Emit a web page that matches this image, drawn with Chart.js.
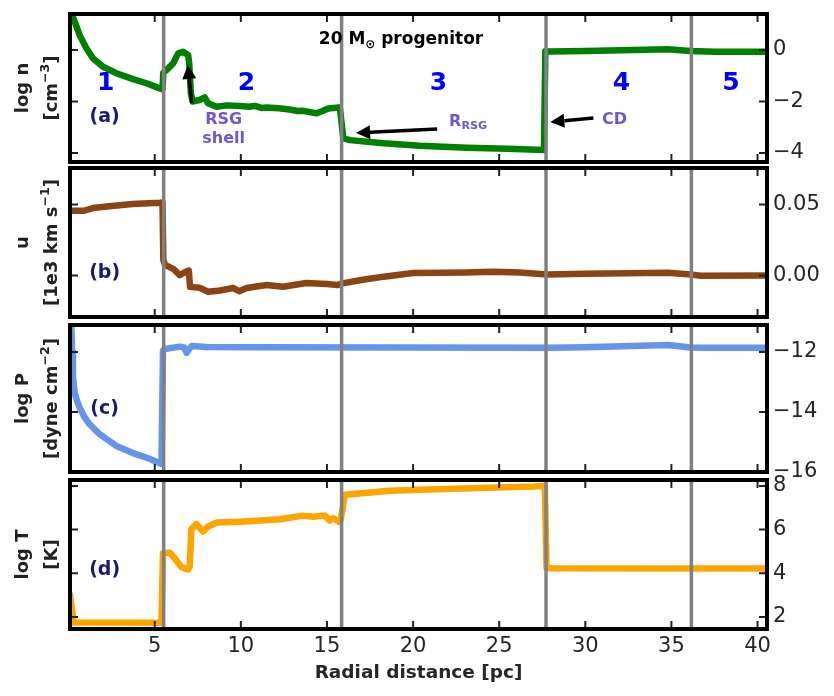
<!DOCTYPE html>
<html lang="en">

<head>
    <meta charset="UTF-8">
    <title>20 Msun progenitor profiles</title>
    <script src="https://cdn.jsdelivr.net/npm/chart.js"></script>
    <style>
        body {
            margin: 0;
            background: #fff;
        }

        #figure {
            position: relative;
            width: 834px;
            height: 696px;
        }

        .panel {
            position: absolute;
            left: 0;
            width: 834px;
        }
    </style>
</head>

<body>
    <div id="figure">
        <div class="panel" id="wrapA"><canvas id="chartA"></canvas></div>
        <div class="panel" id="wrapB"><canvas id="chartB"></canvas></div>
        <div class="panel" id="wrapC"><canvas id="chartC"></canvas></div>
        <div class="panel" id="wrapD"><canvas id="chartD"></canvas></div>
    </div>

    <script>
        // ---- data ----
        const boundaries = [5.52, 15.85, 27.72, 36.16];
        const regionLabels = ['1', '2', '3', '4', '5'];
        const regionCentres = [2.15, 10.32, 21.48, 32.1, 38.46];

        const xTicks = [5, 10, 15, 20, 25, 30, 35, 40];
        const nTicks = [-4, -2, 0];
        const uTicks = [0, 0.05];
        const pTicks = [-16, -14, -12];
        const tTicks = [2, 4, 6, 8];

        // (a) log n
        const radiusN = [0.08, 0.25, 0.64, 1.03, 1.41, 2.0, 2.77, 3.74, 4.52, 5.29, 5.45, 5.5, 5.68, 6.07, 6.36,
            6.65, 6.94, 7.0, 7.1, 7.2, 7.6, 7.9, 8.1, 8.59, 9.2, 9.94, 10.5, 10.8, 11.2, 11.49, 12.2, 12.6, 13.0,
            13.3, 13.6, 14.4, 14.7, 15.08, 15.66, 15.75, 15.95, 16.34, 18.27, 20.4, 23.1, 25.5, 27.6, 27.68, 27.97,
            30.0, 32.8, 34.8, 36.1, 37.5, 40.55];
        const logN = [1.8, 1.29, 0.58, 0.07, -0.32, -0.65, -0.9, -1.13, -1.29, -1.49, -1.52, -0.88, -0.78, -0.52,
            -0.13, -0.07, -0.19, -0.5, -1.7, -2.0, -1.94, -1.84, -2.07, -2.2, -2.15, -2.17, -2.2, -2.17, -2.25,
            -2.23, -2.26, -2.29, -2.33, -2.37, -2.36, -2.46, -2.38, -2.27, -2.23, -2.25, -3.43, -3.5, -3.62, -3.72,
            -3.8, -3.84, -3.88, -0.05, -0.06, -0.04, 0.0, 0.03, -0.04, -0.07, -0.07];

        // (b) u
        const radiusU = [0.08, 0.9, 1.4, 2.5, 3.7, 5.3, 5.45, 5.5, 5.6, 6.1, 6.45, 6.85, 6.98, 7.05, 7.6, 8.1, 8.8,
            9.55, 9.75, 9.94, 10.3, 10.7, 11.5, 12.45, 13.8, 15.0, 15.6, 15.9, 17.0, 18.3, 20.0, 21.7, 23.0, 24.7,
            26.2, 27.8, 30.0, 34.8, 36.1, 36.7, 40.55];
        const velocityU = [0.0456, 0.0456, 0.0475, 0.049, 0.0503, 0.0513, 0.0515, 0.011, 0.0075, 0.0045, 0.0003,
            0.003, 0.0035, -0.008, -0.0086, -0.0114, -0.0105, -0.0088, -0.01, -0.011, -0.009, -0.0081, -0.0067,
            -0.0079, -0.0053, -0.006, -0.0067, -0.0055, -0.0032, -0.0008, 0.0018, 0.002, 0.0022, 0.0027, 0.0022,
            0.0008, 0.0012, 0.002, 0.0008, -0.0001, 0.0];

        // (c) log P
        const radiusP = [0.08, 0.15, 0.2, 0.25, 0.35, 0.5, 0.64, 0.9, 1.22, 1.8, 2.77, 3.74, 4.7, 5.39, 5.48, 5.6,
            6.45, 6.7, 6.85, 7.0, 7.15, 8.0, 10.7, 20.0, 27.8, 30.0, 34.8, 36.1, 37.0, 40.55];
        const logP = [-10.5, -11.0, -12.0, -12.8, -13.35, -13.65, -13.85, -14.15, -14.41, -14.74, -15.13, -15.37,
            -15.56, -15.73, -11.95, -11.9, -11.82, -11.85, -12.03, -11.9, -11.8, -11.83, -11.84, -11.85, -11.86,
            -11.84, -11.77, -11.85, -11.86, -11.86];

        // (d) log T
        const radiusT = [0.08, 0.15, 0.3, 5.39, 5.48, 5.87, 6.16, 6.55, 6.94, 7.03, 7.13, 7.42, 7.81, 8.1, 8.59,
            9.94, 10.9, 12.27, 13.6, 14.2, 14.88, 15.17, 15.37, 15.7, 15.78, 16.05, 18.66, 20.8, 27.0, 27.65, 27.75,
            28.05, 40.55];
        const logT = [3.0, 2.6, 1.75, 1.74, 4.92, 4.94, 4.69, 4.28, 4.18, 4.3, 6.02, 6.25, 5.91, 6.14, 6.32, 6.36,
            6.4, 6.47, 6.64, 6.59, 6.64, 6.41, 6.52, 6.36, 6.4, 7.59, 7.78, 7.83, 7.97, 8.0, 4.25, 4.23, 4.22];

        const FONT = "'DejaVu Sans', sans-serif";

        // draw a run of bold text pieces, with optional super/subscripts
        function drawRich(ctx, parts, x, baseline, size, color, align) {
            const pieces = parts.map(p => {
                const s = (p.sup || p.sub) ? size * 0.7 : size;
                ctx.font = 'bold ' + s + 'px ' + FONT;
                return { t: p.t, s: s, w: ctx.measureText(p.t).width, dy: p.sup ? -size * 0.42 : (p.sub ? size * 0.22 : 0) };
            });
            const total = pieces.reduce((acc, p) => acc + p.w, 0);
            let cx = align === 'left' ? x : x - total / 2;
            ctx.fillStyle = color;
            ctx.textAlign = 'left';
            ctx.textBaseline = 'alphabetic';
            pieces.forEach(p => {
                ctx.font = 'bold ' + p.s + 'px ' + FONT;
                ctx.fillText(p.t, cx, baseline + p.dy);
                cx += p.w;
            });
        }

        function drawArrow(ctx, x1, y1, x2, y2) {
            const ang = Math.atan2(y2 - y1, x2 - x1);
            const headLen = 14, headW = 7;
            const bx = x2 - headLen * Math.cos(ang), by = y2 - headLen * Math.sin(ang);
            ctx.strokeStyle = '#000';
            ctx.lineWidth = 3.5;
            ctx.beginPath();
            ctx.moveTo(x1, y1);
            ctx.lineTo(bx, by);
            ctx.stroke();
            ctx.fillStyle = '#000';
            ctx.beginPath();
            ctx.moveTo(x2, y2);
            ctx.lineTo(bx + headW * Math.sin(ang), by - headW * Math.cos(ang));
            ctx.lineTo(bx - headW * Math.sin(ang), by + headW * Math.cos(ang));
            ctx.closePath();
            ctx.fill();
        }

        const panelDecor = {
            id: 'panelDecor',
            afterDatasetsDraw(chart, args, opts) {
                const { ctx, chartArea: a, scales: { x, y } } = chart;
                ctx.save();
                // region boundaries
                ctx.strokeStyle = '#808080';
                ctx.lineWidth = 3.5;
                boundaries.forEach(b => {
                    const px = x.getPixelForValue(b);
                    ctx.beginPath();
                    ctx.moveTo(px, a.top);
                    ctx.lineTo(px, a.bottom);
                    ctx.stroke();
                });
                (opts.arrows || []).forEach(ar => {
                    drawArrow(ctx, x.getPixelForValue(ar.from[0]), y.getPixelForValue(ar.from[1]),
                        x.getPixelForValue(ar.to[0]), y.getPixelForValue(ar.to[1]));
                });
                (opts.texts || []).forEach(t => {
                    drawRich(ctx, t.parts, x.getPixelForValue(t.x), y.getPixelForValue(t.y) + t.size * 0.36,
                        t.size, t.color, t.align || 'center');
                });
                ctx.restore();
            },
            afterDraw(chart, args, opts) {
                const { ctx, chartArea: a, scales: { x, y } } = chart;
                ctx.save();
                // inward ticks on all four sides
                ctx.strokeStyle = '#222';
                ctx.lineWidth = 2;
                ctx.beginPath();
                xTicks.forEach(v => {
                    const px = x.getPixelForValue(v);
                    ctx.moveTo(px, a.top); ctx.lineTo(px, a.top + 8);
                    ctx.moveTo(px, a.bottom); ctx.lineTo(px, a.bottom - 8);
                });
                y.ticks.forEach(t => {
                    const py = y.getPixelForValue(t.value);
                    ctx.moveTo(a.left, py); ctx.lineTo(a.left + 8, py);
                    ctx.moveTo(a.right, py); ctx.lineTo(a.right - 8, py);
                });
                ctx.stroke();
                // frame
                ctx.strokeStyle = '#000';
                ctx.lineWidth = 4;
                ctx.strokeRect(a.left, a.top, a.right - a.left, a.bottom - a.top);
                // y title on the left, rotated
                const cy = (a.top + a.bottom) / 2;
                const lines = opts.ylabel || [];
                const baselines = [28, 57];
                lines.forEach((parts, i) => {
                    ctx.save();
                    ctx.translate(baselines[i], cy);
                    ctx.rotate(-Math.PI / 2);
                    drawRich(ctx, parts, 0, 0, 18, '#222', 'center');
                    ctx.restore();
                });
                ctx.restore();
            }
        };
        Chart.register(panelDecor);

        function minusFmt(v) {
            return v < 0 ? '\u2212' + Math.abs(v) : String(v);
        }

        function buildPanel(id, cfg) {
            const last = !!cfg.last;
            return new Chart(document.getElementById(id), {
                type: 'line',
                data: {
                    datasets: [{
                        data: cfg.xs.map((r, i) => ({ x: r, y: cfg.ys[i] })),
                        borderColor: cfg.color,
                        borderWidth: 6.5,
                        pointRadius: 0,
                        tension: 0,
                        clip: 0,
                        borderJoinStyle: 'round',
                        borderCapStyle: 'round'
                    }]
                },
                options: {
                    responsive: true,
                    maintainAspectRatio: false,
                    animation: false,
                    events: [],
                    layout: { padding: { left: 70, right: 0, top: 12, bottom: last ? 0 : 6 } },
                    plugins: {
                        legend: { display: false },
                        tooltip: { enabled: false },
                        panelDecor: { ylabel: cfg.ylabel, texts: cfg.texts || [], arrows: cfg.arrows || [] }
                    },
                    scales: {
                        x: {
                            type: 'linear',
                            min: 0.08,
                            max: 40.55,
                            display: last,
                            grid: { display: false, drawTicks: false },
                            border: { display: false },
                            afterBuildTicks: s => { s.ticks = xTicks.map(v => ({ value: v })); },
                            afterFit: s => {
                                s.height = last ? 67 : 0;
                                s.paddingLeft = 0;
                                s.paddingRight = 0;
                            },
                            ticks: {
                                autoSkip: false,
                                maxRotation: 0,
                                padding: 5,
                                color: '#262626',
                                font: { family: FONT, size: 21 },
                                callback: v => String(v)
                            },
                            title: {
                                display: true,
                                text: 'Radial distance [pc]',
                                color: '#262626',
                                padding: { top: 0, bottom: 12 },
                                font: { family: FONT, size: 18.5, weight: 'bold' }
                            }
                        },
                        y: {
                            type: 'linear',
                            position: 'right',
                            min: cfg.min,
                            max: cfg.max,
                            grid: { display: false, drawTicks: false },
                            border: { display: false },
                            afterBuildTicks: s => { s.ticks = cfg.ticks.map(v => ({ value: v })); },
                            afterFit: s => { s.width = 67; s.paddingTop = 0; s.paddingBottom = 0; },
                            ticks: {
                                autoSkip: false,
                                padding: 6,
                                color: '#262626',
                                font: { family: FONT, size: 21 },
                                callback: cfg.fmt || minusFmt
                            }
                        }
                    }
                }
            });
        }

        // panel frames in page pixels
        function place(wrapId, top, bottom, last) {
            const el = document.getElementById(wrapId);
            el.style.top = (top - 12) + 'px';
            el.style.height = (last ? 696 - (top - 12) : bottom - top + 18) + 'px';
        }
        place('wrapA', 14, 162);
        place('wrapB', 168, 317);
        place('wrapC', 325, 472);
        place('wrapD', 480, 629, true);

        const tagColor = '#191970';
        const noteColor = '#6A5ACD';

        const regionTexts = regionLabels.map((lab, i) => ({
            x: regionCentres[i], y: -1.2, size: 25, color: '#0000FF', parts: [{ t: lab }]
        }));

        buildPanel('chartA', {
            xs: radiusN, ys: logN, color: '#008000', min: -4.35, max: 1.4, ticks: nTicks,
            ylabel: [[{ t: 'log n' }], [{ t: '[cm' }, { t: '\u22123', sup: true }, { t: ']' }]],
            texts: regionTexts.concat([
                { x: 2.09, y: -2.53, size: 19, color: tagColor, parts: [{ t: '(a)' }] },
                { x: 19.3, y: 0.47, size: 17, color: '#000', parts: [{ t: '20 M' }, { t: '\u2299', sub: true }, { t: ' progenitor' }] },
                { x: 9.0, y: -2.64, size: 16, color: noteColor, parts: [{ t: 'RSG' }] },
                { x: 9.0, y: -3.38, size: 16, color: noteColor, parts: [{ t: 'shell' }] },
                { x: 22.09, y: -2.72, size: 16, color: noteColor, align: 'left', parts: [{ t: 'R' }, { t: 'RSG', sub: true }] },
                { x: 31.69, y: -2.64, size: 16, color: noteColor, parts: [{ t: 'CD' }] }
            ]),
            arrows: [
                { from: [7.15, -2.06], to: [6.92, -0.58] },
                { from: [21.4, -3.07], to: [16.69, -3.22] },
                { from: [30.47, -2.64], to: [27.97, -2.8] }
            ]
        });

        buildPanel('chartB', {
            xs: radiusU, ys: velocityU, color: '#8B4513', min: -0.0292, max: 0.0757, ticks: uTicks,
            fmt: v => v.toFixed(2),
            ylabel: [[{ t: 'u' }], [{ t: '[1e3 km s' }, { t: '\u22121', sup: true }, { t: ']' }]],
            texts: [{ x: 2.09, y: 0.0034, size: 19, color: tagColor, parts: [{ t: '(b)' }] }]
        });

        buildPanel('chartC', {
            xs: radiusP, ys: logP, color: '#6495ED', min: -16, max: -11.1, ticks: pTicks,
            ylabel: [[{ t: 'log P' }], [{ t: '[dyne cm' }, { t: '\u22122', sup: true }, { t: ']' }]],
            texts: [{ x: 2.09, y: -13.83, size: 19, color: tagColor, parts: [{ t: '(c)' }] }]
        });

        buildPanel('chartD', {
            xs: radiusT, ys: logT, color: '#FFA500', min: 1.45, max: 8.27, ticks: tTicks, last: true,
            ylabel: [[{ t: 'log T' }], [{ t: '[K]' }]],
            texts: [{ x: 2.09, y: 4.25, size: 19, color: tagColor, parts: [{ t: '(d)' }] }]
        });
    </script>
</body>

</html>
